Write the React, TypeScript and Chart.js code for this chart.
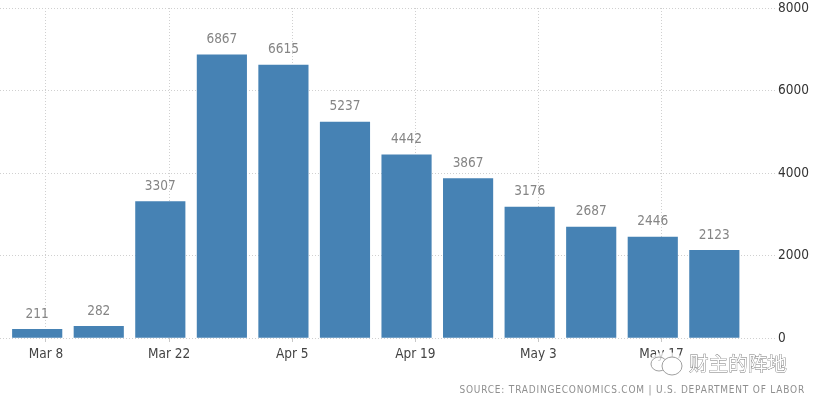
import { useEffect, useRef } from 'react';
import { Chart, registerables } from 'chart.js';

Chart.register(...registerables);

// days counted from Mar 8, claims are dated on the Saturday before each tick
const weekDays = [-1, 6, 13, 20, 27, 34, 41, 48, 55, 62, 69, 76];
const claims = [211, 282, 3307, 6867, 6615, 5237, 4442, 3867, 3176, 2687, 2446, 2123];
const tickDays = [0, 14, 28, 42, 56, 70];
const tickLabels = ['Mar 8', 'Mar 22', 'Apr 5', 'Apr 19', 'May 3', 'May 17'];
const sourceText = 'SOURCE: TRADINGECONOMICS.COM | U.S. DEPARTMENT OF LABOR';
const watermarkText = '财主的阵地';

const FONT = '"DejaVu Sans Condensed", "DejaVu Sans", sans-serif';

const valueLabels = {
  id: 'valueLabels',
  afterDatasetsDraw(chart: any) {
    const { ctx } = chart;
    const bars = chart.getDatasetMeta(0).data;
    ctx.save();
    ctx.font = `13.5px ${FONT}`;
    ctx.fillStyle = '#858585';
    ctx.textAlign = 'center';
    ctx.textBaseline = 'bottom';
    bars.forEach((bar: any, i: number) => {
      ctx.fillText(String(claims[i]), bar.x, bar.y - 8.5);
    });
    ctx.restore();
  },
};

const footer = {
  id: 'footer',
  afterDraw(chart: any) {
    const { ctx } = chart;
    ctx.save();

    ctx.font = `10px ${FONT}`;
    ctx.fillStyle = '#8f8f8f';
    ctx.textAlign = 'right';
    ctx.textBaseline = 'middle';
    ctx.letterSpacing = '0.8px';
    ctx.fillText(sourceText, 805, 390);
    ctx.letterSpacing = '0px';

    // wechat watermark sits over the last tick label
    ctx.fillStyle = 'rgba(255,255,255,0.75)';
    ctx.beginPath();
    ctx.ellipse(667, 365, 19, 13, 0, 0, Math.PI * 2);
    ctx.fill();
    ctx.strokeStyle = '#a0a0a0';
    ctx.lineWidth = 1;
    ctx.beginPath();
    ctx.ellipse(659, 364, 8, 7, 0, 0, Math.PI * 2);
    ctx.stroke();
    ctx.beginPath();
    ctx.ellipse(672, 366, 10, 9, 0, 0, Math.PI * 2);
    ctx.fillStyle = '#ffffff';
    ctx.fill();
    ctx.stroke();

    ctx.font = '19.6px "Noto Sans CJK SC"';
    ctx.textAlign = 'left';
    ctx.fillStyle = '#ffffff';
    ctx.strokeStyle = '#777777';
    ctx.lineWidth = 0.8;
    ctx.strokeText(watermarkText, 689, 364);
    ctx.fillText(watermarkText, 689, 364);
    ctx.restore();
  },
};

export default function App() {
  const canvasRef = useRef<HTMLCanvasElement | null>(null);
  const chartRef = useRef<Chart | null>(null);

  useEffect(() => {
    document.body.style.margin = '0';
    const ctx = canvasRef.current?.getContext('2d');
    if (ctx) {
      chartRef.current = new Chart(ctx, {
        type: 'bar',
        data: {
          datasets: [{
            data: weekDays.map((d, i) => ({ x: d, y: claims[i] })),
            backgroundColor: '#4682b4',
            barThickness: 49.5,
          }],
        },
        options: {
          responsive: false,
          animation: false,
          layout: { padding: 0 },
          plugins: { legend: { display: false }, tooltip: { enabled: false } },
          scales: {
            x: {
              type: 'linear',
              offset: false,
              min: -5.23,
              max: 82.9,
              afterFit(scale: any) { scale.height = 62; },
              afterBuildTicks(scale: any) {
                scale.ticks = tickDays.map((value) => ({ value }));
              },
              ticks: {
                autoSkip: false,
                maxRotation: 0,
                padding: 4,
                color: '#444444',
                font: { family: FONT, size: 13.5 },
                callback: (value: any) => tickLabels[tickDays.indexOf(value)],
              },
              grid: {
                offset: false,
                color: '#d0d0d0',
                tickLength: 4,
                tickColor: '#c8c8c8',
                tickBorderDash: [],
              },
              border: { display: false, dash: [1, 2] },
            },
            y: {
              position: 'right',
              min: 0,
              max: 8000,
              afterFit(scale: any) {
                scale.width = 40;
                scale.paddingTop = 8;
              },
              ticks: {
                stepSize: 2000,
                padding: 3,
                color: '#333333',
                font: { family: FONT, size: 13.5 },
                callback: (value: any) => String(value),
              },
              grid: { color: '#d0d0d0', drawTicks: false },
              border: { display: false, dash: [1, 2] },
            },
          },
        },
        plugins: [valueLabels, footer],
      });
    }

    return () => {
      if (chartRef.current) {
        chartRef.current.destroy();
        chartRef.current = null;
      }
    };
  }, []);

  return (
    <div style={{ width: 815, height: 400 }}>
      <canvas ref={canvasRef} width="815" height="400" style={{ display: 'block' }}></canvas>
    </div>
  );
}
